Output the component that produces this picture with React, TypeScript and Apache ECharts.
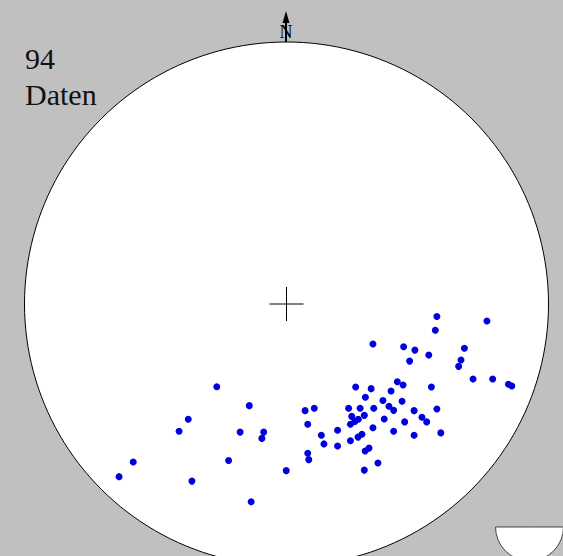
import React, { useEffect, useRef } from "react";
import * as echarts from "echarts";

// Pole positions in the projection circle (unit radius; x = east, y = north)
const poleX = [
  0.574, 0.765, 0.568, 0.33, 0.447, 0.49, 0.679, 0.543, 0.47, 0.666,
  0.657, 0.712, 0.787, 0.847, 0.86, 0.423, 0.445, 0.264, 0.323, 0.399,
  0.553, 0.301, 0.368, 0.441, 0.391, 0.409, 0.237, 0.281, 0.333, 0.487,
  0.574, 0.071, 0.106, 0.249, 0.297, 0.274, 0.261, 0.244, 0.373, 0.517,
  0.535, 0.451, 0.081, 0.33, 0.195, 0.409, 0.133, 0.288, 0.273, 0.244,
  0.487, 0.589, 0.143, 0.195, 0.315, 0.3, 0.081, 0.085, 0.349, 0.297,
  -0.266, -0.142, -0.375, -0.41, -0.177, -0.087, -0.094, -0.585, -0.221, -0.001,
  -0.639, -0.361, -0.135,
];
const poleY = [
  -0.048, -0.065, -0.1, -0.153, -0.163, -0.176, -0.169, -0.195, -0.218, -0.214,
  -0.238, -0.286, -0.286, -0.306, -0.313, -0.297, -0.309, -0.317, -0.323, -0.332,
  -0.317, -0.356, -0.368, -0.371, -0.39, -0.406, -0.398, -0.398, -0.398, -0.407,
  -0.401, -0.407, -0.398, -0.429, -0.425, -0.44, -0.448, -0.459, -0.439, -0.432,
  -0.45, -0.45, -0.459, -0.472, -0.482, -0.486, -0.501, -0.497, -0.508, -0.522,
  -0.501, -0.492, -0.534, -0.542, -0.55, -0.561, -0.57, -0.594, -0.607, -0.634,
  -0.316, -0.388, -0.44, -0.486, -0.489, -0.489, -0.513, -0.603, -0.597, -0.636,
  -0.659, -0.676, -0.755,
];
const countLabel = "94";
const unitLabel = "Daten";
const northLabel = "N";

// framing of the page around the unit circle
const X_MIN = -286.5 / 262;
const X_MAX = 276.5 / 262;
const Y_MIN = -252 / 262;
const Y_MAX = 304 / 262;

export default function App() {
  const ref = useRef<HTMLDivElement>(null);
  useEffect(() => {
    if (!ref.current) return;
    const chart = echarts.init(ref.current, null, { renderer: "svg" });
    const points = poleX.map((x, i) => [x, poleY[i]]);
    const option: any = {
      animation: false,
      backgroundColor: "#c0c0c0",
      grid: { left: 0, right: 0, top: 0, bottom: 0, outerBoundsMode: "none" },
      xAxis: { type: "value", min: X_MIN, max: X_MAX, show: false },
      yAxis: { type: "value", min: Y_MIN, max: Y_MAX, show: false },
      series: [
        {
          type: "custom",
          z: 1,
          silent: true,
          clip: false,
          data: [[0, 0]],
          renderItem: (params: any, api: any) => {
            const c = api.coord([0, 0]);
            const r = api.size([1, 1])[0];
            const h = api.size([0.065, 0.065])[0];
            return {
              type: "group",
              children: [
                {
                  type: "circle",
                  shape: { cx: c[0], cy: c[1], r },
                  style: { fill: "#ffffff", stroke: "#000000", lineWidth: 1 },
                },
                {
                  type: "line",
                  shape: { x1: c[0] - h, y1: c[1], x2: c[0] + h, y2: c[1] },
                  style: { stroke: "#000000", lineWidth: 1 },
                },
                {
                  type: "line",
                  shape: { x1: c[0], y1: c[1] - h, x2: c[0], y2: c[1] + h },
                  style: { stroke: "#000000", lineWidth: 1 },
                },
              ],
            };
          },
        },
        {
          type: "scatter",
          z: 2,
          data: points,
          symbol: "circle",
          symbolSize: 7,
          itemStyle: { color: "#0000dc", opacity: 1 },
        },
      ],
      graphic: [
        {
          type: "text",
          left: 25,
          top: 43,
          style: {
            text: countLabel,
            font: "30px 'Liberation Serif', serif",
            fill: "#111111",
          },
        },
        {
          type: "text",
          left: 25,
          top: 79,
          style: {
            text: unitLabel,
            font: "30px 'Liberation Serif', serif",
            fill: "#111111",
          },
        },
        {
          type: "line",
          shape: { x1: 286, y1: 18, x2: 286, y2: 42 },
          style: { stroke: "#000000", lineWidth: 2 },
        },
        {
          type: "polygon",
          shape: { points: [[286, 11], [282.5, 23], [289.5, 23]] },
          style: { fill: "#000000" },
        },
        {
          type: "text",
          x: 286,
          y: 32,
          style: {
            text: northLabel,
            font: "18px 'Liberation Serif', serif",
            fill: "#000000",
            align: "center",
            verticalAlign: "middle",
          },
        },
        {
          type: "sector",
          shape: { cx: 529.5, cy: 527, r0: 0, r: 34, startAngle: 0, endAngle: Math.PI },
          style: { fill: "#ffffff", stroke: "#444444", lineWidth: 1 },
        },
      ],
    };
    chart.setOption(option);
    return () => chart.dispose();
  }, []);
  return (
    <div
      ref={ref}
      style={{ position: "absolute", left: 0, top: 0, width: 563, height: 556 }}
    />
  );
}
